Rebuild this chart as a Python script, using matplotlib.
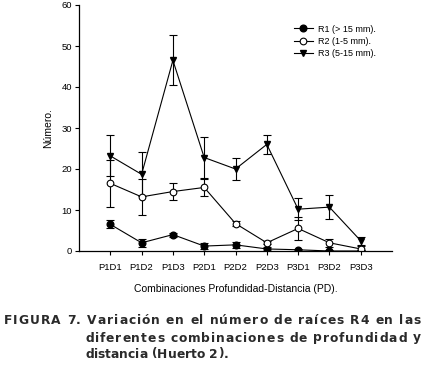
import matplotlib.pyplot as plt
import numpy as np

plt.rcParams['font.family'] = ['Liberation Sans', 'DejaVu Sans']

categories = ["P1D1", "P1D2", "P1D3", "P2D1", "P2D2", "P2D3", "P3D1", "P3D2", "P3D3"]

r1 = [6.5, 2.0, 4.0, 1.2, 1.5, 0.5, 0.3, 0.0, 0.0]
r1_err = [1.0, 1.0, 0.5, 0.7, 0.7, 0.4, 0.3, 0.2, 0.2]

r2 = [16.5, 13.2, 14.5, 15.5, 6.7, 2.0, 5.5, 2.0, 0.5]
r2_err = [5.8, 4.4, 2.0, 2.0, 0.5, 0.4, 2.9, 1.0, 0.8]

r3 = [23.2, 18.7, 46.5, 22.8, 20.0, 26.0, 10.2, 10.7, 2.5]
r3_err = [5.0, 5.4, 6.1, 5.1, 2.7, 2.3, 2.7, 2.9, 1.0]

labels = ["R1 (> 15 mm).", "R2 (1-5 mm).", "R3 (5-15 mm)."]

caption = ["FIGURA 7. Variación en el número de raíces R4 en las",
           "diferentes combinaciones de profundidad y",
           "distancia (Huerto 2)."]

W, H = 426, 367
fig = plt.figure(figsize=(W / 100, H / 100), dpi=100)
ax = fig.add_axes([79/W, 1 - 251/H, (392 - 79)/W, (251 - 5)/H])

x = np.arange(len(categories))
style = dict(color="black", lw=0.8, elinewidth=0.8, capsize=3, capthick=0.8, ms=4.8)
ax.errorbar(x, r1, yerr=r1_err, fmt="-o", mfc="black", mec="black", label=labels[0], **style)
ax.errorbar(x, r2, yerr=r2_err, fmt="-o", mfc="white", mec="black", mew=0.8, label=labels[1], **style)
ax.errorbar(x, r3, yerr=r3_err, fmt="-v", mfc="black", mec="black", label=labels[2], **style)

ax.set_xlim(-1, 9)
ax.set_ylim(0, 60)
ax.set_xticks(x)
ax.set_xticklabels(categories)
ax.set_yticks([0, 10, 20, 30, 40, 50, 60])
ax.tick_params(direction="out", length=3, width=0.8, labelsize=6.8, pad=2)
ax.tick_params(axis="x", pad=6)
for s in ["top", "right"]:
    ax.spines[s].set_visible(False)
for s in ["left", "bottom"]:
    ax.spines[s].set_linewidth(0.9)

ax.set_xlabel("Combinaciones Profundidad-Distancia (PD).", fontsize=7.5, labelpad=8)
ax.set_ylabel("Número.", fontsize=7.5, labelpad=6)

handles, labs = ax.get_legend_handles_labels()
handles = [h[0] for h in handles]
ax.legend(handles, labs, loc="upper left", bbox_to_anchor=(289/W, 1 - 20/H),
          bbox_transform=fig.transFigure, frameon=False, fontsize=6.5,
          handlelength=2.2, handletextpad=0.5, labelspacing=0.35, borderpad=0)

# caption with letter spacing (drawn char by char, stretched to fit the line)
cap = dict(fontsize=8.8, fontweight="bold", color="#2a2a2a", family="DejaVu Sans", va="center")
renderer = fig.canvas.get_renderer()


def char_widths(s):
    ws = []
    for ch in s:
        t = fig.text(0, 0, ch if ch != " " else "a a", **cap)
        w = t.get_window_extent(renderer).width
        if ch == " ":
            t2 = fig.text(0, 0, "aa", **cap)
            w = w - t2.get_window_extent(renderer).width
            t2.remove()
        t.remove()
        ws.append(w)
    return ws


def spaced_line(s, x0, y, x1):
    ws = char_widths(s)
    track = (x1 - x0 - sum(ws)) / (len(s) - 1)
    xp = x0
    for ch, w in zip(s, ws):
        if ch != " ":
            fig.text(xp / W, 1 - y / H, ch, **cap)
        xp += w + track


spaced_line(caption[0], 4, 321, 421)
spaced_line(caption[1], 85, 338, 421)
spaced_line(caption[2], 85, 354, 228)

fig.savefig("out.png", dpi=100)
